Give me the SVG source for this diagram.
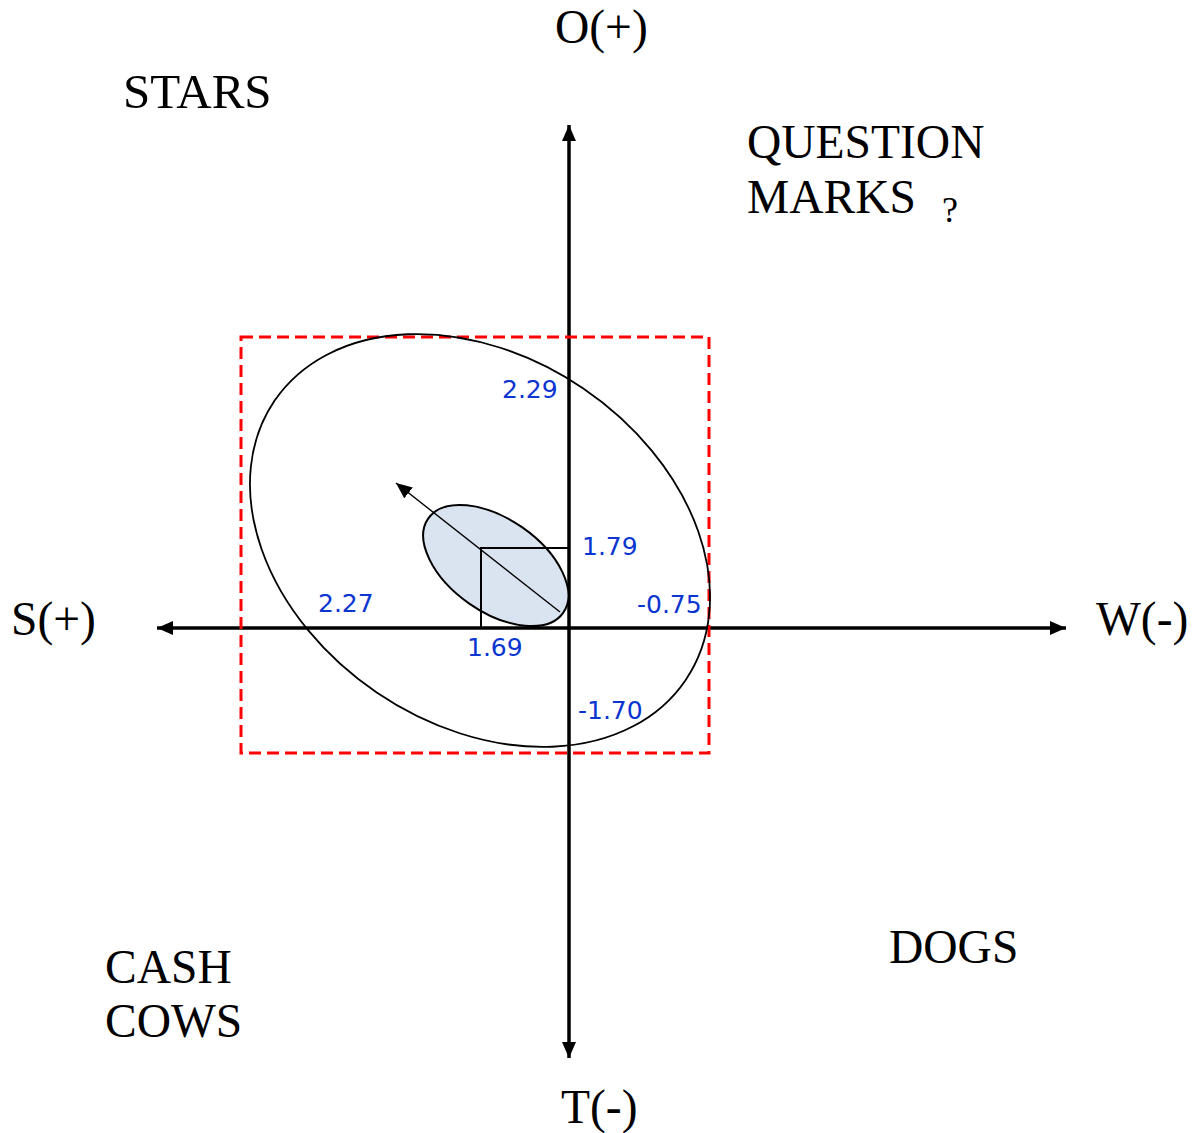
<svg xmlns="http://www.w3.org/2000/svg" width="1195" height="1133" viewBox="0 0 1195 1133">
<defs>
<marker id="axhead" markerUnits="userSpaceOnUse" markerWidth="18" markerHeight="14" refX="16" refY="7" orient="auto-start-reverse">
<path d="M0,0 L16,7 L0,14 Z" fill="#000"/>
</marker>
<marker id="thinhead" markerUnits="userSpaceOnUse" markerWidth="18" markerHeight="14" refX="16" refY="7" orient="auto">
<path d="M0,0 L16,7 L0,14 Z" fill="#000"/>
</marker>
</defs>
<style>
.lbl{font-family:"Liberation Serif","Times New Roman",serif;font-size:47.5px;fill:#000}
.val{font-family:"DejaVu Sans",Verdana,sans-serif;font-size:25px;fill:#0a35d0}
.axis{stroke:#000;stroke-width:3.5;fill:none}
</style>
<rect width="1195" height="1133" fill="#fff"/>
<g id="connectors">
<line class="axis" x1="569" y1="1058" x2="569" y2="125" marker-start="url(#axhead)" marker-end="url(#axhead)"/>
<line class="axis" x1="1066" y1="628" x2="157" y2="628" marker-start="url(#axhead)" marker-end="url(#axhead)"/>
</g>
<g id="box">
<rect x="241" y="337" width="468" height="416" fill="none" stroke="#ff0000" stroke-width="3" stroke-dasharray="12,6"/>
</g>
<g id="big-ellipse">
<ellipse cx="0" cy="0" rx="248.5" ry="183.8" transform="translate(480,540.5) rotate(34.2)" fill="none" stroke="#000" stroke-width="1.8"/>
</g>
<g id="small-ellipse">
<ellipse cx="0" cy="0" rx="82.3" ry="46.4" transform="translate(495.8,565.5) rotate(34.9)" fill="#dae3f0" stroke="#000" stroke-width="2"/>
</g>
<g id="bracket">
<path d="M481,628 L481,548 L569,548" fill="none" stroke="#000" stroke-width="2"/>
</g>
<g id="vector">
<line x1="560" y1="612" x2="396" y2="483" stroke="#000" stroke-width="1.4" marker-end="url(#thinhead)"/>
</g>
<g id="values">
<text class="val" x="502" y="398">2.29</text>
<text class="val" x="582" y="555">1.79</text>
<text class="val" x="318" y="612">2.27</text>
<text class="val" x="637" y="613">-0.75</text>
<text class="val" x="467" y="656">1.69</text>
<text class="val" x="578" y="719">-1.70</text>
</g>
<g id="labels">
<text class="lbl" x="555" y="43">O(+)</text>
<text class="lbl" x="561" y="1123">T(-)</text>
<text class="lbl" x="11" y="635">S(+)</text>
<text class="lbl" x="1096" y="635">W(-)</text>
<text class="lbl" x="123" y="108" style="font-size:49px">STARS</text>
<text class="lbl" x="747" y="158">QUESTION</text>
<text class="lbl" x="747" y="213">MARKS</text>
<text class="lbl" x="942" y="222" style="font-size:36px">?</text>
<text class="lbl" x="105" y="983">CASH</text>
<text class="lbl" x="105" y="1037">COWS</text>
<text class="lbl" x="889" y="963">DOGS</text>
</g>
</svg>
